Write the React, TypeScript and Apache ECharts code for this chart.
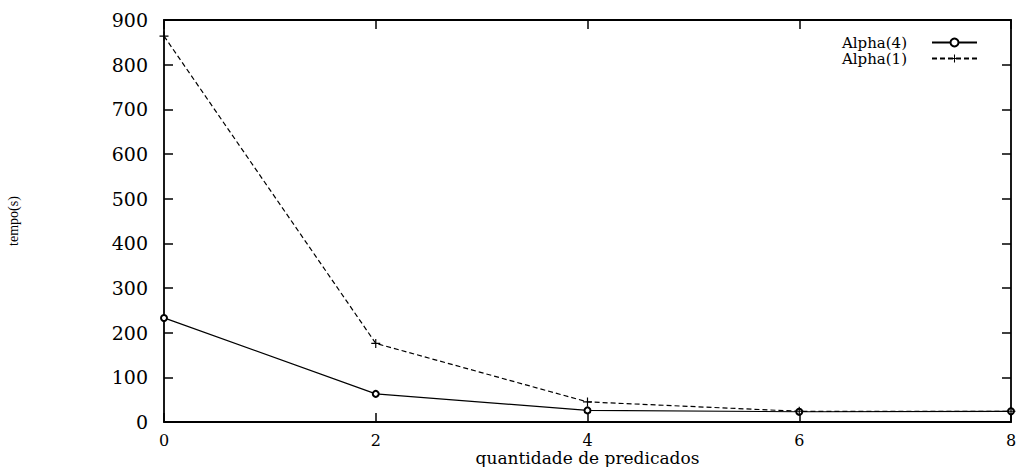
import React, { useEffect, useRef } from "react";
import * as echarts from "echarts";

const xTicks = [0, 2, 4, 6, 8];
const seriesNames = ["Alpha(4)", "Alpha(1)"];
const alpha4 = [233, 63, 26, 23, 24];
const alpha1 = [864, 176, 45, 24, 24];
const xTitle = "quantidade de predicados";
const yTitle = "tempo(s)";

const PLUS = "path://M4,0h1.2v4h4v1.2h-4v4h-1.2v-4h-4v-1.2h4z";

export default function App() {
  const ref = useRef<HTMLDivElement>(null);
  useEffect(() => {
    if (!ref.current) return;
    const chart = echarts.init(ref.current, null, { renderer: "svg" });
    const serif = "DejaVu Serif";
    const axisLine = { show: true, onZero: false, lineStyle: { color: "#000", width: 1.8 } };
    const tick = { show: true, inside: true, length: 9, lineStyle: { color: "#000", width: 1.5 } };
    chart.setOption({
      animation: false,
      backgroundColor: "#fff",
      grid: { left: 164, right: 6, top: 20, bottom: 45, containLabel: false, outerBoundsMode: "none" },
      legend: {
        orient: "vertical",
        right: 34,
        top: 30,
        align: "right",
        itemWidth: 45,
        itemHeight: 10,
        itemGap: 1,
        textStyle: { fontFamily: serif, fontSize: 15, color: "#000", lineHeight: 15, padding: [0, 20, 0, 0] },
        data: seriesNames,
      },
      xAxis: [
        {
          type: "value",
          min: 0,
          max: 8,
          interval: 2,
          position: "bottom",
          axisLine,
          axisTick: tick,
          splitLine: { show: false },
          axisLabel: {
            margin: 10,
            fontFamily: serif,
            fontSize: 16,
            color: "#000",
          },
          name: xTitle,
          nameLocation: "middle",
          nameGap: 27,
          nameMoveOverlap: false,
          nameTextStyle: { fontFamily: serif, fontSize: 17, color: "#000" },
        },
        {
          type: "value",
          min: 0,
          max: 8,
          interval: 2,
          position: "top",
          axisLine,
          axisTick: tick,
          splitLine: { show: false },
          axisLabel: { show: false },
        },
      ],
      yAxis: [
        {
          type: "value",
          min: 0,
          max: 900,
          interval: 100,
          position: "left",
          axisLine,
          axisTick: tick,
          splitLine: { show: false },
          axisLabel: { margin: 16, fontFamily: serif, fontSize: 19, color: "#000" },
          name: yTitle,
          nameLocation: "middle",
          nameGap: 144,
          nameRotate: 90,
          nameTextStyle: { fontFamily: "Liberation Serif", fontSize: 14, color: "#000" },
        },
        {
          type: "value",
          min: 0,
          max: 900,
          interval: 100,
          position: "right",
          axisLine,
          axisTick: tick,
          splitLine: { show: false },
          axisLabel: { show: false },
        },
      ],
      series: [
        {
          name: seriesNames[0],
          type: "line",
          data: xTicks.map((x, i) => [x, alpha4[i]]),
          symbol: "emptyCircle",
          symbolSize: 6,
          lineStyle: { color: "#000", width: 1.2, type: "solid" },
          itemStyle: { color: "#000", borderColor: "#000", borderWidth: 1 },
          z: 3,
        },
        {
          name: seriesNames[1],
          type: "line",
          data: xTicks.map((x, i) => [x, alpha1[i]]),
          symbol: PLUS,
          symbolSize: 9,
          lineStyle: { color: "#000", width: 1.2, type: [5, 3] },
          itemStyle: { color: "#000", borderWidth: 0 },
          z: 3,
        },
      ],
    });
    return () => chart.dispose();
  }, []);
  return (
    <div
      ref={ref}
      style={{ position: "absolute", left: 0, top: 0, width: 1017, height: 467 }}
    />
  );
}
